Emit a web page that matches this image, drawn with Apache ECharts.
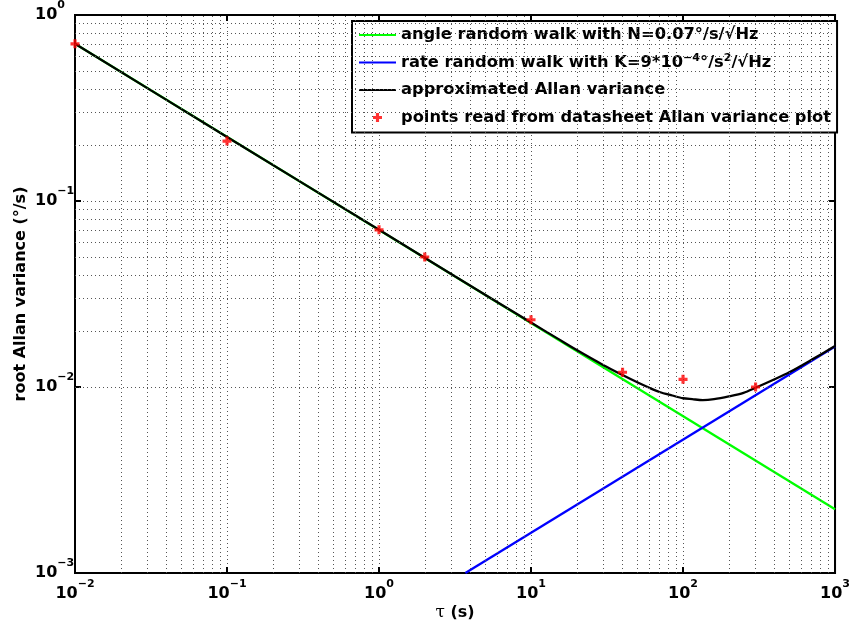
<!DOCTYPE html>
<html>
<head>
<meta charset="utf-8">
<script src="https://cdn.jsdelivr.net/npm/echarts@6/dist/echarts.min.js"></script>
<style>html,body{margin:0;padding:0;background:#fff;}#c{width:853px;height:629px;}</style>
</head>
<body>
<div id="c"></div>
<script>
// Angle random walk line (green)
const tauARW = [0.01, 1000];
const arwVals = [0.70, 0.0022];
// Rate random walk line (blue)
const tauRRW = [3.7, 1000];
const rrwVals = [0.001, 0.0165];
// Approximated Allan variance (black)
const tauAllan = [0.01, 0.1, 1, 3, 10, 15, 20, 30, 40, 50, 60, 70, 85, 100, 115, 135, 160, 200, 250, 300, 400, 500, 700, 1000];
const allanVals = [0.70, 0.221, 0.070, 0.0404, 0.0222, 0.0182, 0.0158, 0.0131, 0.0116, 0.0106, 0.0099, 0.0094, 0.0090, 0.0087, 0.0086, 0.0085, 0.0086, 0.0089, 0.0093, 0.0099, 0.0110, 0.0120, 0.0140, 0.0166];
// Points (red)
const tauPts = [0.01, 0.1, 1, 2, 10, 40, 100, 300];
const ptsVals = [0.70, 0.21, 0.07, 0.05, 0.023, 0.012, 0.011, 0.010];

const legendNames = {
  arw: 'angle random walk with N=0.07°/s/√Hz',
  rrw: 'rate random walk with K=9*10{sup|−4}°/s{sup|2}/√Hz',
  allan: 'approximated Allan variance',
  pts: 'points read from datasheet Allan variance plot'
};

const FONT = "'DejaVu Sans', 'Liberation Sans', Arial, sans-serif";
const zip = (a, b) => a.map((v, i) => [v, b[i]]);

// minor grid positions (2..9 per decade)
const minorX = [];
for (let d = -2; d <= 2; d++) for (let m = 2; m <= 9; m++) minorX.push({ xAxis: m * Math.pow(10, d) });
const minorY = [];
for (let d = -3; d <= -1; d++) for (let m = 2; m <= 9; m++) minorY.push({ yAxis: m * Math.pow(10, d) });

function expLabel(v) {
  const e = Math.round(Math.log10(v));
  return '{b|10}{s|' + (e < 0 ? '−' + (-e) : String(e)) + '}';
}
const labelRich = {
  b: { fontSize: 16, fontWeight: 'bold', fontFamily: FONT, color: '#000', lineHeight: 30, verticalAlign: 'middle' },
  s: { fontSize: 11, fontWeight: 'bold', fontFamily: FONT, color: '#000', lineHeight: 8, verticalAlign: 'top' }
};
const gridLine = { show: true, lineStyle: { color: '#555', width: 1, type: [1, 3] } };
const hiddenSym = { color: 'rgba(0,0,0,0)', borderColor: 'rgba(0,0,0,0)', borderWidth: 0, opacity: 0 };
const tickStyle = { show: true, inside: true, length: 6, lineStyle: { color: '#000', width: 2 } };

const chart = echarts.init(document.getElementById('c'), null, { renderer: 'canvas' });
chart.setOption({
  animation: false,
  backgroundColor: '#fff',
  grid: { left: 75, right: 13, top: 15, bottom: 56, show: true, borderColor: '#000', borderWidth: 2, backgroundColor: 'transparent' },
  xAxis: [{
    type: 'log', logBase: 10, min: 0.01, max: 1000,
    axisLine: { show: true, lineStyle: { color: '#000', width: 2 } },
    axisTick: tickStyle,
    splitLine: gridLine,
    axisLabel: { formatter: expLabel, rich: labelRich, margin: 6, color: '#000' },
    name: '{t|τ} (s)', nameLocation: 'middle', nameGap: 31, nameMoveOverlap: false,
    nameTextStyle: { fontSize: 16, fontWeight: 'bold', fontFamily: FONT, color: '#000',
      rich: { t: { fontSize: 17, fontWeight: 'normal', fontFamily: "'DejaVu Serif', 'Liberation Serif', serif", color: '#000' } } }
  }, {
    type: 'log', logBase: 10, min: 0.01, max: 1000, position: 'top',
    axisLine: { show: true, lineStyle: { color: '#000', width: 2 } },
    axisTick: tickStyle, axisLabel: { show: false }, splitLine: { show: false }
  }],
  yAxis: [{
    type: 'log', logBase: 10, min: 0.001, max: 1,
    axisLine: { show: true, lineStyle: { color: '#000', width: 2 } },
    axisTick: tickStyle,
    splitLine: gridLine,
    axisLabel: { formatter: expLabel, rich: labelRich, margin: 40, align: 'left', color: '#000' },
    name: 'root Allan variance (°/s)', nameLocation: 'middle', nameGap: 46, nameMoveOverlap: false,
    nameTextStyle: { fontSize: 16, fontWeight: 'bold', fontFamily: FONT, color: '#000' }
  }, {
    type: 'log', logBase: 10, min: 0.001, max: 1, position: 'right',
    axisLine: { show: true, lineStyle: { color: '#000', width: 2 } },
    axisTick: tickStyle, axisLabel: { show: false }, splitLine: { show: false }
  }],
  legend: {
    data: [
      { name: 'arw', itemStyle: hiddenSym },
      { name: 'rrw', itemStyle: hiddenSym },
      { name: 'allan', itemStyle: hiddenSym },
      { name: 'pts' }
    ],
    orient: 'vertical', left: 352, top: 21,
    padding: [4, 6, 5, 6],
    itemWidth: 37, itemHeight: 9, itemGap: 7.5,
    backgroundColor: '#fff', borderColor: '#000', borderWidth: 2,
    formatter: n => legendNames[n],
    textStyle: { fontSize: 16.3, fontWeight: 'bold', fontFamily: FONT, color: '#000', lineHeight: 20,
      rich: { sup: { fontSize: 11, fontWeight: 'bold', fontFamily: FONT, color: '#000', lineHeight: 10, verticalAlign: 'top' } } },
    selectedMode: false
  },
  series: [
    {
      name: 'grid-minor', type: 'line', data: [], z: 1, silent: true,
      markLine: {
        silent: true, symbol: ['none', 'none'], label: { show: false }, animation: false,
        lineStyle: { color: '#555', width: 1, type: [1, 3] },
        data: minorX.concat(minorY)
      }
    },
    { name: 'arw', type: 'line', data: zip(tauARW, arwVals), showSymbol: false, symbol: 'none',
      lineStyle: { color: '#00ff00', width: 2.3 }, itemStyle: { color: '#00ff00' }, z: 3 },
    { name: 'rrw', type: 'line', data: zip(tauRRW, rrwVals), showSymbol: false, symbol: 'none',
      lineStyle: { color: '#0000ff', width: 2.3 }, itemStyle: { color: '#0000ff' }, z: 3 },
    { name: 'allan', type: 'line', data: zip(tauAllan, allanVals), showSymbol: false, symbol: 'none', smooth: 0.3,
      lineStyle: { color: '#000', width: 2.3 }, itemStyle: { color: '#000' }, z: 4 },
    { name: 'pts', type: 'scatter', data: zip(tauPts, ptsVals), clip: false,
      symbol: 'path://M2.6,0H5.4V2.6H8V5.4H5.4V8H2.6V5.4H0V2.6H2.6Z', symbolSize: 9, symbolKeepAspect: true,
      itemStyle: { color: '#ff0000' }, z: 5 }
  ]
});
</script>
</body>
</html>
